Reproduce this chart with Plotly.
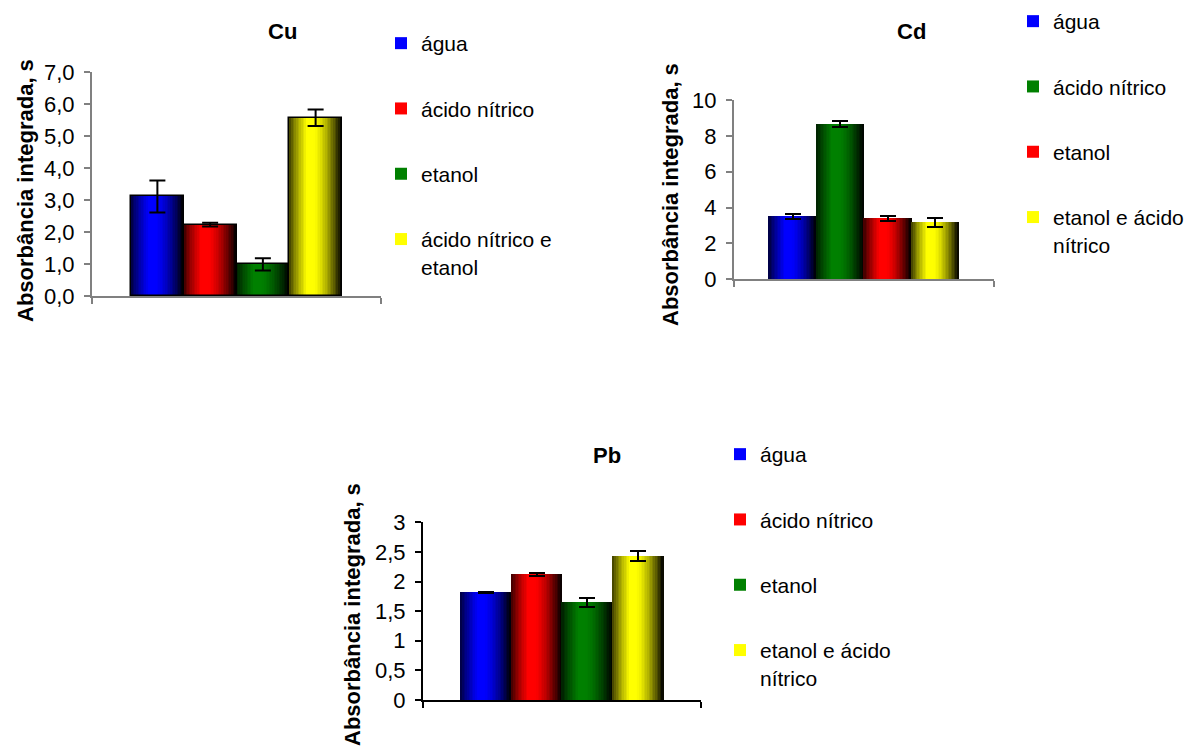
import plotly.graph_objects as go

W, H = 1186, 746
FONT = "Liberation Sans, Arial, sans-serif"

# ---- data -------------------------------------------------------------
cu_labels = ["água", "ácido nítrico", "etanol", "ácido nítrico e<br>etanol"]
cu_values = [3.11, 2.23, 0.99, 5.57]
cu_errors = [0.50, 0.06, 0.19, 0.26]

cd_labels = ["água", "ácido nítrico", "etanol", "etanol e ácido<br>nítrico"]
cd_values = [3.53, 8.65, 3.40, 3.18]
cd_errors = [0.14, 0.18, 0.13, 0.24]

pb_labels = ["água", "ácido nítrico", "etanol", "etanol e ácido<br>nítrico"]
pb_values = [1.82, 2.12, 1.65, 2.43]
pb_errors = [0.008, 0.02, 0.075, 0.09]

BLUE, RED, GREEN, YELLOW = (0, 0, 255), (255, 0, 0), (0, 128, 0), (255, 255, 0)
cu_colors = [BLUE, RED, GREEN, YELLOW]
cd_colors = [BLUE, GREEN, RED, YELLOW]
pb_colors = [BLUE, RED, GREEN, YELLOW]

Y_TITLE = "Absorbância integrada, s"

# ---- helpers ----------------------------------------------------------
N_STRIPS = 32
GROUP_START, GROUP_END = 0.135, 0.865


def shade(t):
    """Brightness profile across a bar (0 = left edge, 1 = right edge)."""
    if t < 0.33:
        return 0.22 + 0.78 * (t / 0.33) ** 0.8
    if t < 0.47:
        return 1.0
    return max(0.0, 1.0 - ((t - 0.47) / 0.53) ** 1.5)


def rgb(c, k):
    return "rgb(%d,%d,%d)" % tuple(round(v * k) for v in c)


def px(x):
    return x / W


def py(y):
    return 1 - y / H


fig = go.Figure()


def add_chart(xa, ya, legend, labels, values, errors, colors, outline):
    n = len(values)
    bw = (GROUP_END - GROUP_START) / n
    sw = bw / N_STRIPS
    centers = []
    for i, (lab, val, col) in enumerate(zip(labels, values, colors)):
        x0 = GROUP_START + i * bw
        ts = [(k + 0.5) / N_STRIPS for k in range(N_STRIPS)]
        order = sorted(range(N_STRIPS), key=lambda k: -shade(ts[k]))
        xs = [x0 + (k + 0.5) * sw for k in order]
        cs = [rgb(col, shade(ts[k])) for k in order]
        fig.add_trace(go.Bar(
            x=xs, y=[val] * N_STRIPS, width=[sw * 1.15] * N_STRIPS,
            marker=dict(color=cs, line=dict(width=0)),
            name=lab, legendgroup=f"{legend}-{i}", legend=legend,
            xaxis=xa, yaxis=ya, hoverinfo="skip",
        ))
        centers.append(x0 + bw / 2)
    fig.add_trace(go.Bar(
        x=centers, y=values, width=[bw] * n,
        marker=dict(color="rgba(0,0,0,0)",
                    line=dict(color="black", width=1.5 if outline else 0)),
        error_y=dict(type="data", array=errors, visible=True,
                     color="black", thickness=2, width=8),
        showlegend=False, xaxis=xa, yaxis=ya, hoverinfo="skip",
    ))


add_chart("x", "y", "legend", cu_labels, cu_values, cu_errors, cu_colors, True)
add_chart("x2", "y2", "legend2", cd_labels, cd_values, cd_errors, cd_colors, False)
add_chart("x3", "y3", "legend3", pb_labels, pb_values, pb_errors, pb_colors, False)


def xaxis(left, right, anchor, color):
    return dict(domain=[px(left), px(right)], range=[0, 1], anchor=anchor,
                showline=True, linecolor=color, linewidth=2,
                tickmode="array", tickvals=[0, 1], ticks="outside",
                ticklen=6, tickwidth=2, tickcolor=color,
                showticklabels=False, showgrid=False, zeroline=False,
                fixedrange=True)


def yaxis(bottom, top, rng, dtick, fmt, anchor, color):
    return dict(domain=[py(bottom), py(top)], range=rng, anchor=anchor,
                dtick=dtick, tickformat=fmt,
                showline=True, linecolor=color, linewidth=2,
                ticks="outside", ticklen=6, tickwidth=2, tickcolor=color,
                ticklabelstandoff=5,
                tickfont=dict(family=FONT, size=22, color="black"),
                showgrid=False, zeroline=False, fixedrange=True)


GRAY = "#808080"


def legend_box(left, top):
    return dict(x=px(left), y=py(top), xanchor="left", yanchor="top",
                font=dict(family=FONT, size=21, color="black"),
                tracegroupgap=35, valign="top", bgcolor="rgba(0,0,0,0)",
                traceorder="grouped", itemclick=False)


def title(text, x, y):
    return dict(text=f"<b>{text}</b>", x=px(x), y=py(y), xref="paper",
                yref="paper", xanchor="center", yanchor="middle",
                showarrow=False,
                font=dict(family=FONT, size=22, color="black"))


def ytitle(x, y):
    return dict(text=f"<b>{Y_TITLE}</b>", x=px(x), y=py(y), xref="paper",
                yref="paper", xanchor="center", yanchor="middle",
                showarrow=False, textangle=-90,
                font=dict(family=FONT, size=22, color="black"))


fig.update_layout(
    width=W, height=H,
    margin=dict(l=0, r=0, t=0, b=0, autoexpand=False),
    paper_bgcolor="white", plot_bgcolor="white",
    separators=",.",
    barmode="overlay", bargap=0,
    xaxis=xaxis(92, 381, "y", GRAY),
    yaxis=yaxis(296, 72, [0, 7], 1, ".1f", "x", GRAY),
    xaxis2=xaxis(734, 994, "y2", GRAY),
    yaxis2=yaxis(279.3, 100, [0, 10], 2, None, "x2", GRAY),
    xaxis3=xaxis(423, 701, "y3", "black"),
    yaxis3=yaxis(700, 522.3, [0, 3], 0.5, None, "x3", "black"),
    legend=legend_box(381, 23),
    legend2=legend_box(1013, 1),
    legend3=legend_box(720, 434),
    annotations=[
        title("Cu", 282, 31), title("Cd", 912, 31), title("Pb", 607, 455),
        ytitle(25, 191), ytitle(670, 195), ytitle(352, 615),
    ],
    showlegend=True,
)

fig.write_html("out.html")
